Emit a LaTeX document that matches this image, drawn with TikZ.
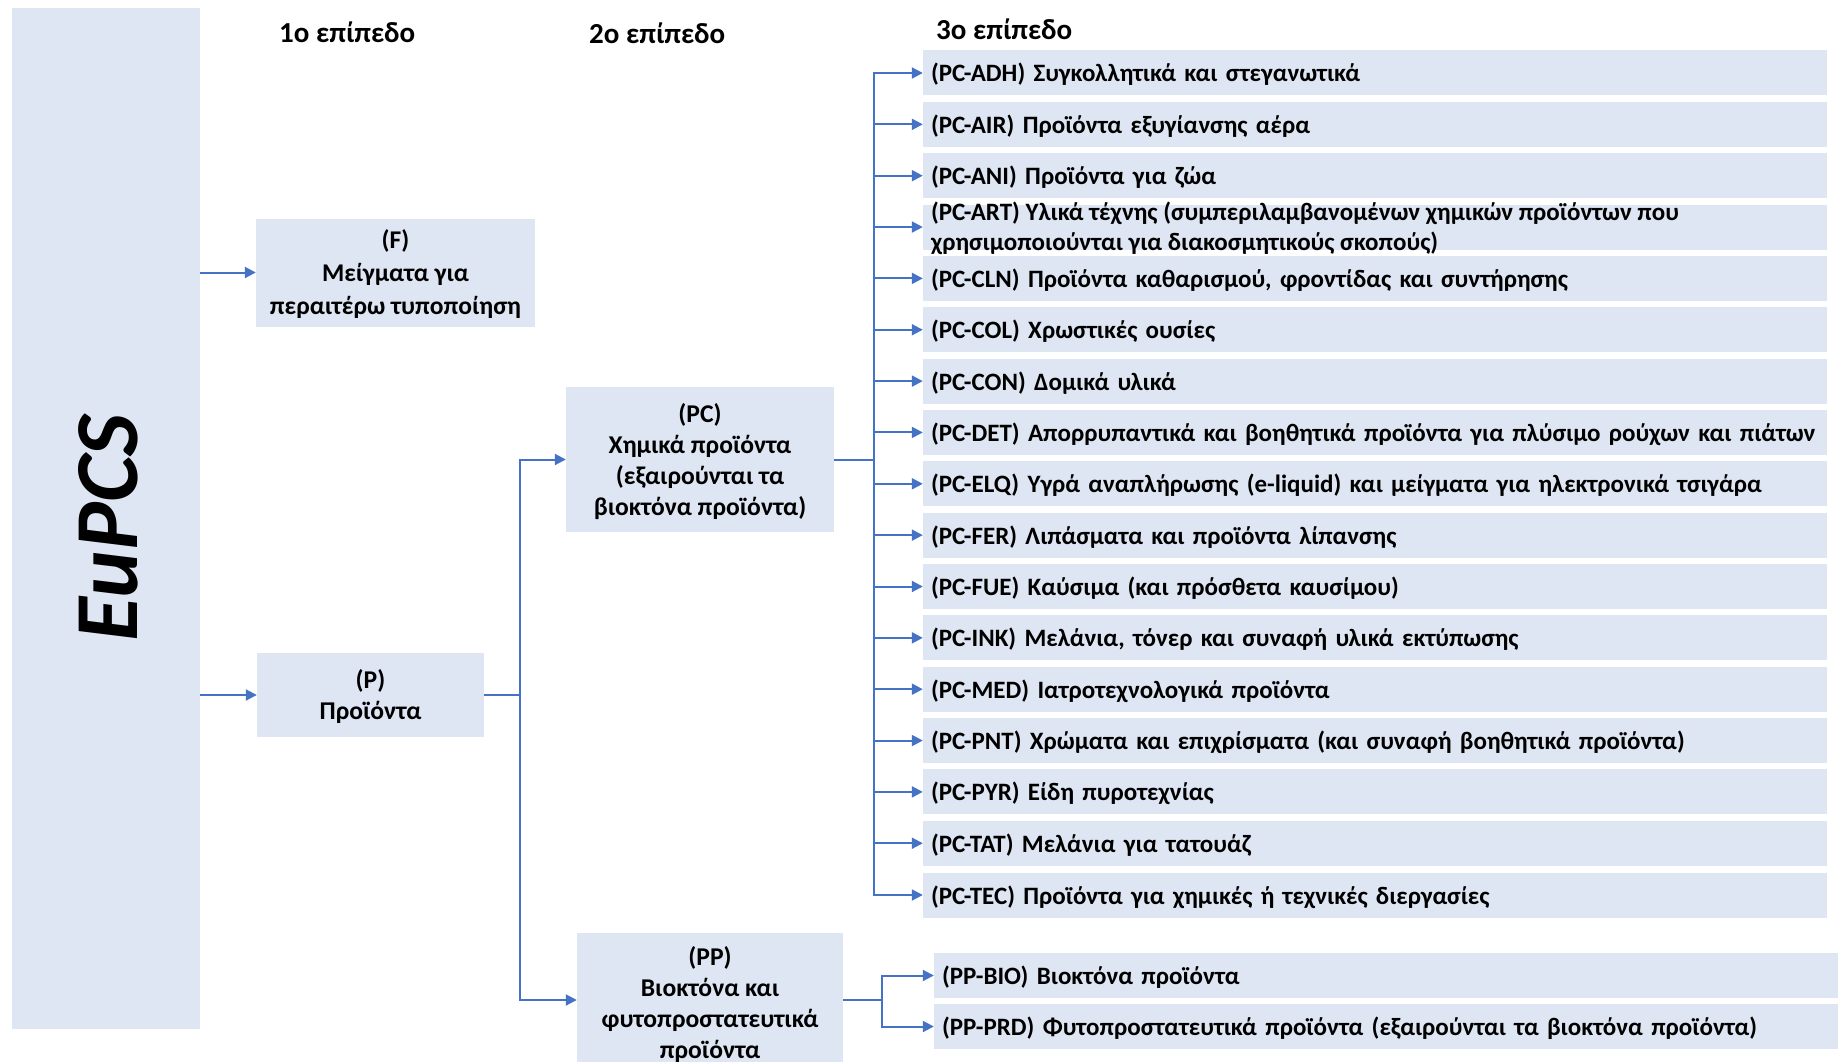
\documentclass[tikz,border=0pt]{standalone}
\usepackage{fontspec}
\setmainfont{Carlito}
\usetikzlibrary{arrows.meta}
\definecolor{boxfill}{HTML}{DFE6F3}
\definecolor{linec}{HTML}{4472C4}
\begin{document}
\begin{tikzpicture}[x=1pt,y=-1pt,
  txt/.style={font=\bfseries\fontsize{25.6}{31}\selectfont},
  itxt/.style={font=\bfseries\fontsize{25}{30}\selectfont},
  boxshape/.style={fill=boxfill, inner sep=0pt},
  boxtext/.style={txt, inner sep=0pt, align=center},
  item/.style={itxt, fill=boxfill, minimum width=904pt, minimum height=45pt, text width=888pt, inner xsep=8pt, inner ysep=0pt, align=left, text height=23pt, text depth=5pt},
  conn/.style={draw=linec, line width=2pt},
  arr/.style={conn, -{Triangle[length=11pt,width=11pt]}},
  hdr/.style={font=\bfseries\fontsize{29}{32}\selectfont, inner sep=0pt, anchor=west}
]
\clip (0,0) rectangle (1840,1062);
\fill[white] (0,0) rectangle (1840,1062);

% left bar
\node[boxshape, minimum width=188pt, minimum height=1021pt] (eupcs) at (106,518.5) {};
\node[rotate=90, inner sep=0pt, font=\bfseries\itshape\fontsize{90}{90}\selectfont] (eupcst) at (108.5,528) {EuPCS};

% headers
\node[hdr] (h1) at (279,32) {1ο επίπεδο};
\node[hdr] (h2) at (589,33) {2ο επίπεδο};
\node[hdr] (h3) at (936,29) {3ο επίπεδο};

% level 1
\node[boxshape, minimum width=279pt, minimum height=108pt] (F) at (395.5,272.5) {};
\node[boxtext, font=\bfseries\fontsize{25.5}{33}\selectfont] (Ft) at ([yshift=-2pt]F.center) {(F)\\Μείγματα για\\περαιτέρω τυποποίηση};
\node[boxshape, minimum width=227pt, minimum height=84pt] (P) at (370.5,695) {};
\node[boxtext] (Pt) at ([yshift=-2pt]P.center) {(P)\\Προϊόντα};

% level 2
\node[boxshape, minimum width=268pt, minimum height=145pt] (PC) at (700,459.5) {};
\node[boxtext] (PCt) at ([yshift=-2.5pt]PC.center) {(PC)\\Χημικά προϊόντα\\(εξαιρούνται τα\\βιοκτόνα προϊόντα)};
\node[boxshape, minimum width=266pt, minimum height=134pt] (PP) at (710,1000) {};
\node[boxtext] (PPt) at ([yshift=-5pt]PP.center) {(PP)\\Βιοκτόνα και\\φυτοπροστατευτικά\\προϊόντα};

% level 3 (PC)
\node[item] (adh) at (1375,73.00) {(PC-ADH) Συγκολλητικά και στεγανωτικά};
\node[item] (air) at (1375,124.35) {(PC-AIR) Προϊόντα εξυγίανσης αέρα};
\node[item] (ani) at (1375,175.70) {(PC-ANI) Προϊόντα για ζώα};
\node[item] (art) at (1375,227.05) {};
\node[itxt, anchor=west, align=left, inner sep=0pt] (artt) at ([xshift=8pt,yshift=-1.5pt]art.west) {(PC-ART) Υλικά τέχνης (συμπεριλαμβανομένων χημικών προϊόντων που\\χρησιμοποιούνται για διακοσμητικούς σκοπούς)};
\node[item] (cln) at (1375,278.40) {(PC-CLN) Προϊόντα καθαρισμού, φροντίδας και συντήρησης};
\node[item] (col) at (1375,329.75) {(PC-COL) Χρωστικές ουσίες};
\node[item] (con) at (1375,381.10) {(PC-CON) Δομικά υλικά};
\node[item] (det) at (1375,432.45) {\mbox{(PC-DET) Απορρυπαντικά και βοηθητικά προϊόντα για πλύσιμο ρούχων και πιάτων}};
\node[item] (elq) at (1375,483.80) {\mbox{(PC-ELQ) Υγρά αναπλήρωσης (e-liquid) και μείγματα για ηλεκτρονικά τσιγάρα}};
\node[item] (fer) at (1375,535.15) {(PC-FER) Λιπάσματα και προϊόντα λίπανσης};
\node[item] (fue) at (1375,586.50) {(PC-FUE) Καύσιμα (και πρόσθετα καυσίμου)};
\node[item] (ink) at (1375,637.85) {(PC-INK) Μελάνια, τόνερ και συναφή υλικά εκτύπωσης};
\node[item] (med) at (1375,689.20) {(PC-MED) Ιατροτεχνολογικά προϊόντα};
\node[item] (pnt) at (1375,740.55) {(PC-PNT) Χρώματα και επιχρίσματα (και συναφή βοηθητικά προϊόντα)};
\node[item] (pyr) at (1375,791.90) {(PC-PYR) Είδη πυροτεχνίας};
\node[item] (tat) at (1375,843.25) {(PC-TAT) Μελάνια για τατουάζ};
\node[item] (tec) at (1375,895.00) {(PC-TEC) Προϊόντα για χημικές ή τεχνικές διεργασίες};

% level 3 (PP)
\node[item] (bio) at (1386,975.5) {(PP-BIO) Βιοκτόνα προϊόντα};
\node[item] (prd) at (1386,1026.5) {(PP-PRD) Φυτοπροστατευτικά προϊόντα (εξαιρούνται τα βιοκτόνα προϊόντα)};

% connectors level 0 -> 1
\draw[arr] (eupcs.east |- F.west) -- (F.west);
\draw[arr] (eupcs.east |- P.west) -- (P.west);

% P -> PC, PP
\coordinate (pbus) at (520,695);
\draw[conn] (P.east) -- (pbus);
\draw[arr] (pbus) |- (PC.west);
\draw[arr] (pbus) |- (PP.west);

% PC -> items
\coordinate (pcbus) at (874,459.5);
\draw[conn] (PC.east) -- (pcbus);
\foreach \n in {adh,air,ani,art,cln,col,con,det,elq,fer,fue,ink,med,pnt,pyr,tat,tec}
  \draw[arr] (pcbus) |- (\n.west);

% PP -> items
\coordinate (ppbus) at (882,1000);
\draw[conn] (PP.east) -- (ppbus);
\draw[arr] (ppbus) |- (bio.west);
\draw[arr] (ppbus) |- (prd.west);
\end{tikzpicture}
\end{document}
